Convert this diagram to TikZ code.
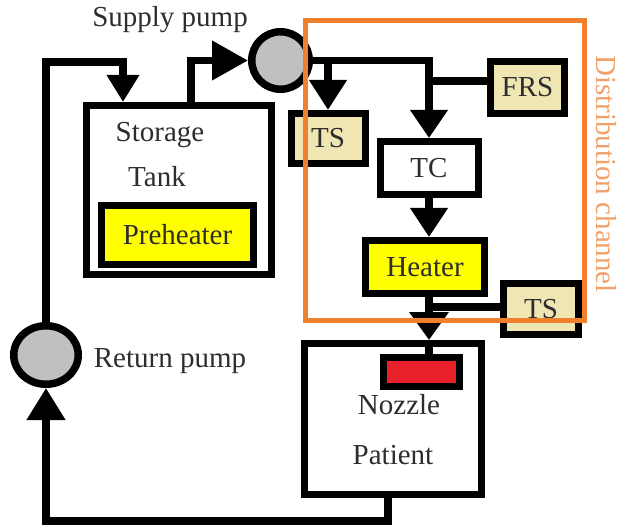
\documentclass[tikz,border=0pt]{standalone}
\usepackage{fontspec}
\setmainfont{Liberation Serif}
\usetikzlibrary{arrows.meta,calc,shapes.geometric}
\definecolor{beige}{RGB}{240,230,180}
\definecolor{pumpgray}{RGB}{192,192,192}
\definecolor{heatyellow}{RGB}{255,255,0}
\definecolor{nozzlered}{RGB}{232,32,42}
\definecolor{chanorange}{RGB}{240,128,45}
\definecolor{chantext}{RGB}{242,160,105}
\definecolor{txt}{RGB}{45,45,45}
\begin{document}
\begin{tikzpicture}[x=1pt,y=-1pt,
  box/.style={draw=black,line width=7pt,inner sep=0pt},
  lbl/.style={font=\fontsize{29}{34}\selectfont,text=txt,inner sep=0pt},
  pipe/.style={draw=black,line width=7.5pt},
  tipto/.style 2 args={-{Triangle[width=#1pt,length=#2pt]}},
  pump/.style={draw=black,line width=7.5pt,fill=pumpgray,inner sep=0pt},
]
\useasboundingbox (0,0) rectangle (620,526);

% storage tank
\node[box,minimum width=185pt,minimum height=169pt] (tank) at (179,190) {};
\node[lbl] (storage) at (160,135) {Storage};
\node[lbl] (tanklbl) at (157,177) {Tank};
\node[box,fill=heatyellow,minimum width=152pt,minimum height=59pt,lbl] (pre) at (177.5,235) {Preheater};

% pumps
\node[pump,circle,minimum size=57.5pt] (sp) at (280.5,60.5) {};
\node[lbl] (splbl) at (170,20) {Supply pump};
\node[pump,ellipse,minimum width=64.5pt,minimum height=58.5pt] (rp) at (46,355) {};
\node[lbl] (rplbl) at (170,361) {Return pump};

% distribution channel components
\node[box,fill=beige,minimum width=74pt,minimum height=50pt,lbl] (ts1) at (328,138.5) {TS};
\node[box,fill=beige,minimum width=74pt,minimum height=52pt,lbl] (frs) at (527.5,87.5) {FRS};
\node[box,fill=white,minimum width=98pt,minimum height=53pt,lbl] (tc) at (429,168) {TC};
\node[box,fill=heatyellow,minimum width=119pt,minimum height=53pt,lbl] (heater) at (425,267) {Heater};
\node[box,fill=beige,minimum width=75pt,minimum height=51pt,lbl] (ts2) at (541,309) {TS};

% patient
\node[box,fill=white,minimum width=177pt,minimum height=151pt] (patient) at (393,419) {};
\node[box,fill=nozzlered,minimum width=76pt,minimum height=29pt] (nozzle) at (421.5,372) {};
\node[lbl] (nozlbl) at (399,405) {Nozzle};
\node[lbl] (patlbl) at (393,455) {Patient};

% connectors
\coordinate (br) at (388,521);
\coordinate (bl) at (46,521);
\draw[pipe,tipto={37}{32}] (patient.south -| br) -- (br) -- (bl) -- (rp.south);
\coordinate (tl) at (46,62);
\coordinate (tr) at (123,62);
\draw[pipe,tipto={31}{27}] (rp.north) -- (tl) -- (tr) -- (tank.north -| tr);
\coordinate (s1) at (191,60);
\draw[pipe,tipto={38}{36}] (tank.north -| s1) |- (sp.west);
\draw[pipe,tipto={36}{28}] (sp.east) -| (tc.north);
\draw[pipe,tipto={36}{30}] (ts1.north |- sp.east) -- (ts1.north);
\coordinate (f1) at ([yshift=6.5pt]frs.west);
\draw[pipe] (f1) -- (f1 -| tc);
\draw[pipe,tipto={36}{29}] (tc.south) -- (tc.south |- heater.north);
\draw[pipe,tipto={38}{28}] (heater.south -| tc) -- (patient.north -| tc);
\draw[pipe] (patient.north -| tc) -- (nozzle.north -| tc);
\coordinate (t2) at ([yshift=2pt]ts2.west);
\draw[pipe] (t2) -- (t2 -| tc);

% distribution channel frame
\node[draw=chanorange,line width=5pt,minimum width=279pt,minimum height=299pt,inner sep=0pt] (dc) at (444.5,170.5) {};
\node[lbl,text=chantext,rotate=-90] (dclbl) at (606,174) {Distribution channel};
\end{tikzpicture}
\end{document}
